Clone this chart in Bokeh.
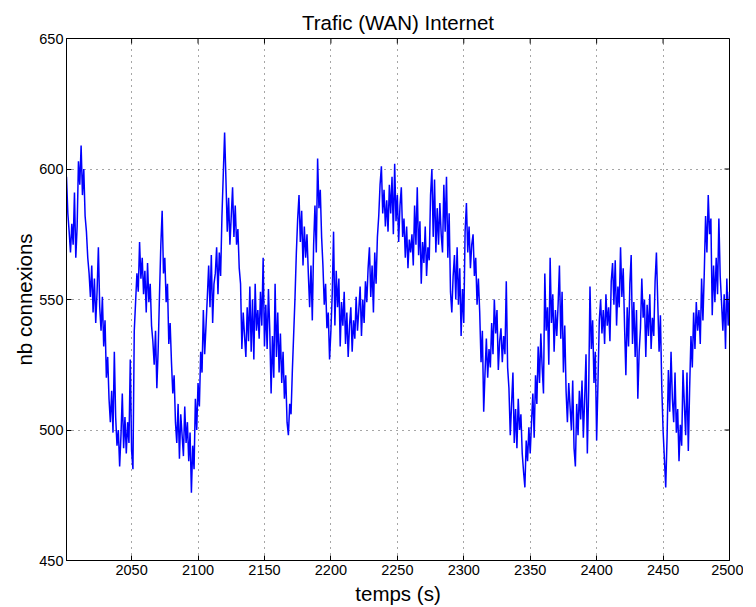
from bokeh.plotting import figure
from bokeh.models import FixedTicker, Range1d, ColumnDataSource
from bokeh.embed import file_html
from bokeh.resources import INLINE

# time in seconds, one sample per second from 2001 to 2500
t_start = 2001
connexions = [
    597, 583, 576, 568, 579, 571, 591, 566, 578, 603,
    594, 609, 590, 600, 582, 576, 566, 560, 551, 563,
    545, 558, 541, 553, 570, 547, 538, 551, 532, 542,
    520, 528, 512, 503, 515, 499, 530, 505, 494, 500,
    486, 498, 514, 493, 505, 491, 503, 495, 527, 492,
    485, 538, 549, 560, 553, 572, 558, 566, 552, 561,
    545, 564, 549, 556, 540, 534, 525, 538, 516, 531,
    552, 571, 584, 560, 566, 549, 556, 533, 541, 526,
    514, 521, 503, 495, 510, 489, 506, 498, 490, 509,
    495, 503, 488, 499, 476, 494, 485, 512, 500, 518,
    509, 530, 522, 546, 529, 540, 551, 563, 547, 567,
    541, 556, 560, 570, 552, 568, 559, 582, 598, 614,
    596, 576, 589, 571, 582, 593, 574, 586, 571, 577,
    562, 556, 531, 545, 536, 528, 547, 534, 555, 530,
    550, 527, 556, 538, 546, 535, 553, 540, 566, 532,
    548, 531, 554, 538, 514, 536, 520, 556, 528, 545,
    522, 537, 518, 530, 512, 521, 503, 498, 510, 506,
    523, 537, 551, 568, 581, 590, 572, 584, 563, 578,
    566, 575, 560, 547, 563, 542, 571, 586, 568, 604,
    585, 592, 574, 563, 548, 556, 539, 545, 527, 538,
    552, 576, 540, 561, 547, 558, 532, 549, 540, 553,
    533, 545, 528, 540, 547, 530, 542, 535, 551, 538,
    546, 555, 536, 550, 541, 557, 549, 562, 570, 551,
    563, 545, 568, 556, 574, 582, 594, 601, 583, 592,
    578, 588, 576, 594, 583, 597, 575, 602, 580, 590,
    572, 586, 593, 574, 581, 566, 578, 562, 573, 568,
    575, 563, 586, 571, 593, 567, 580, 556, 572, 564,
    578, 559, 570, 565, 590, 600, 574, 596, 568, 585,
    571, 587, 575, 568, 594, 576, 597, 566, 583, 553,
    545, 559, 567, 550, 570, 548, 562, 536, 554, 541,
    576, 587, 568, 578, 562, 571, 575, 559, 566, 548,
    558, 545, 526, 538, 507, 522, 535, 520, 531, 524,
    541, 529, 550, 537, 546, 523, 534, 539, 526, 536,
    529, 557, 524, 516, 498, 510, 522, 495, 508, 493,
    512, 500, 506, 491, 484, 478, 496, 488, 501, 491,
    503, 514, 497, 521, 510, 532, 518, 537, 524, 514,
    560, 538, 547, 525, 566, 541, 552, 530, 546, 536,
    548, 563, 535, 553, 522, 540, 515, 503, 518, 509,
    500, 519, 493, 486, 510, 498, 515, 504, 519, 497,
    512, 529, 491, 515, 555, 531, 542, 518, 530, 496,
    518, 542, 550, 537, 546, 533, 552, 540, 547, 534,
    557, 564, 548, 565, 540, 555, 547, 570, 551, 562,
    540, 521, 547, 532, 556, 567, 533, 549, 528, 546,
    512, 530, 539, 558, 543, 550, 528, 548, 536, 552,
    531, 543, 536, 557, 568, 549, 530, 544, 517, 500,
    489, 478, 497, 523, 507, 530, 512, 503, 522, 499,
    508, 488, 502, 494, 523, 510, 498, 522, 492, 516,
    536, 524, 545, 531, 549, 538, 546, 533, 558, 542,
    560, 582, 568, 590, 575, 581, 544, 563, 549, 566,
    552, 581, 559, 549, 538, 552, 531, 558, 540, 553,
]
temps = list(range(t_start, t_start + len(connexions)))

x_ticks = [2050, 2100, 2150, 2200, 2250, 2300, 2350, 2400, 2450, 2500]
y_ticks = [450, 500, 550, 600, 650]
x_lo, x_hi = 2001, 2500
y_lo, y_hi = 450, 650

FONT = "Liberation Sans"
FW, FH = 663, 522
TICK = 5

p = figure(
    output_backend="svg", toolbar_location=None,
    frame_width=FW, frame_height=FH,
    min_border_left=66, min_border_right=14, min_border_top=38, min_border_bottom=38,
    x_range=Range1d(x_lo, x_hi), y_range=Range1d(y_lo, y_hi),
    title="Trafic (WAN) Internet",
    x_axis_label="temps (s)", y_axis_label="nb connexions",
)
p.background_fill_color = "white"
p.border_fill_color = "white"
p.outline_line_color = "black"
p.outline_line_width = 1

p.title.text_font = FONT
p.title.text_font_size = "20.5px"
p.title.text_font_style = "normal"
p.title.align = "center"
p.title.text_color = "black"
p.title.standoff = 10

for g, ticks in ((p.xgrid[0], x_ticks[:-1]), (p.ygrid[0], [500, 550, 600])):
    g.ticker = FixedTicker(ticks=ticks)
    g.grid_line_color = "black"
    g.grid_line_alpha = 0.7
    g.grid_line_dash = "1 5"
    g.grid_line_width = 1

src = ColumnDataSource(dict(t=temps, v=connexions))
p.line("t", "v", source=src, line_color="#0000ff", line_width=1.5)

for ax, ticks in ((p.xaxis[0], x_ticks), (p.yaxis[0], y_ticks)):
    ax.ticker = FixedTicker(ticks=ticks)
    ax.major_tick_in = TICK
    ax.major_tick_out = 0
    ax.minor_tick_in = 0
    ax.minor_tick_out = 0
    ax.axis_line_color = "black"
    ax.major_tick_line_color = "black"
    ax.major_label_text_font = FONT
    ax.major_label_text_font_size = "14.5px"
    ax.major_label_text_color = "black"
    ax.axis_label_text_font = FONT
    ax.axis_label_text_font_size = "20.5px"
    ax.axis_label_text_font_style = "normal"
    ax.axis_label_text_color = "black"

p.yaxis[0].major_label_standoff = 3
p.yaxis[0].axis_label_standoff = 0
p.xaxis[0].major_label_standoff = 4
p.xaxis[0].axis_label_standoff = 4

# inward tick marks on the top and right sides of the box
dy = TICK * (y_hi - y_lo) / FH
dx = TICK * (x_hi - x_lo) / FW
p.segment(x0=x_ticks, y0=[y_hi] * len(x_ticks), x1=x_ticks, y1=[y_hi - dy] * len(x_ticks),
          line_color="black", line_width=1)
p.segment(x0=[x_hi] * len(y_ticks), y0=y_ticks, x1=[x_hi - dx] * len(y_ticks), y1=y_ticks,
          line_color="black", line_width=1)

open("out.html", "w").write(file_html(p, INLINE))
